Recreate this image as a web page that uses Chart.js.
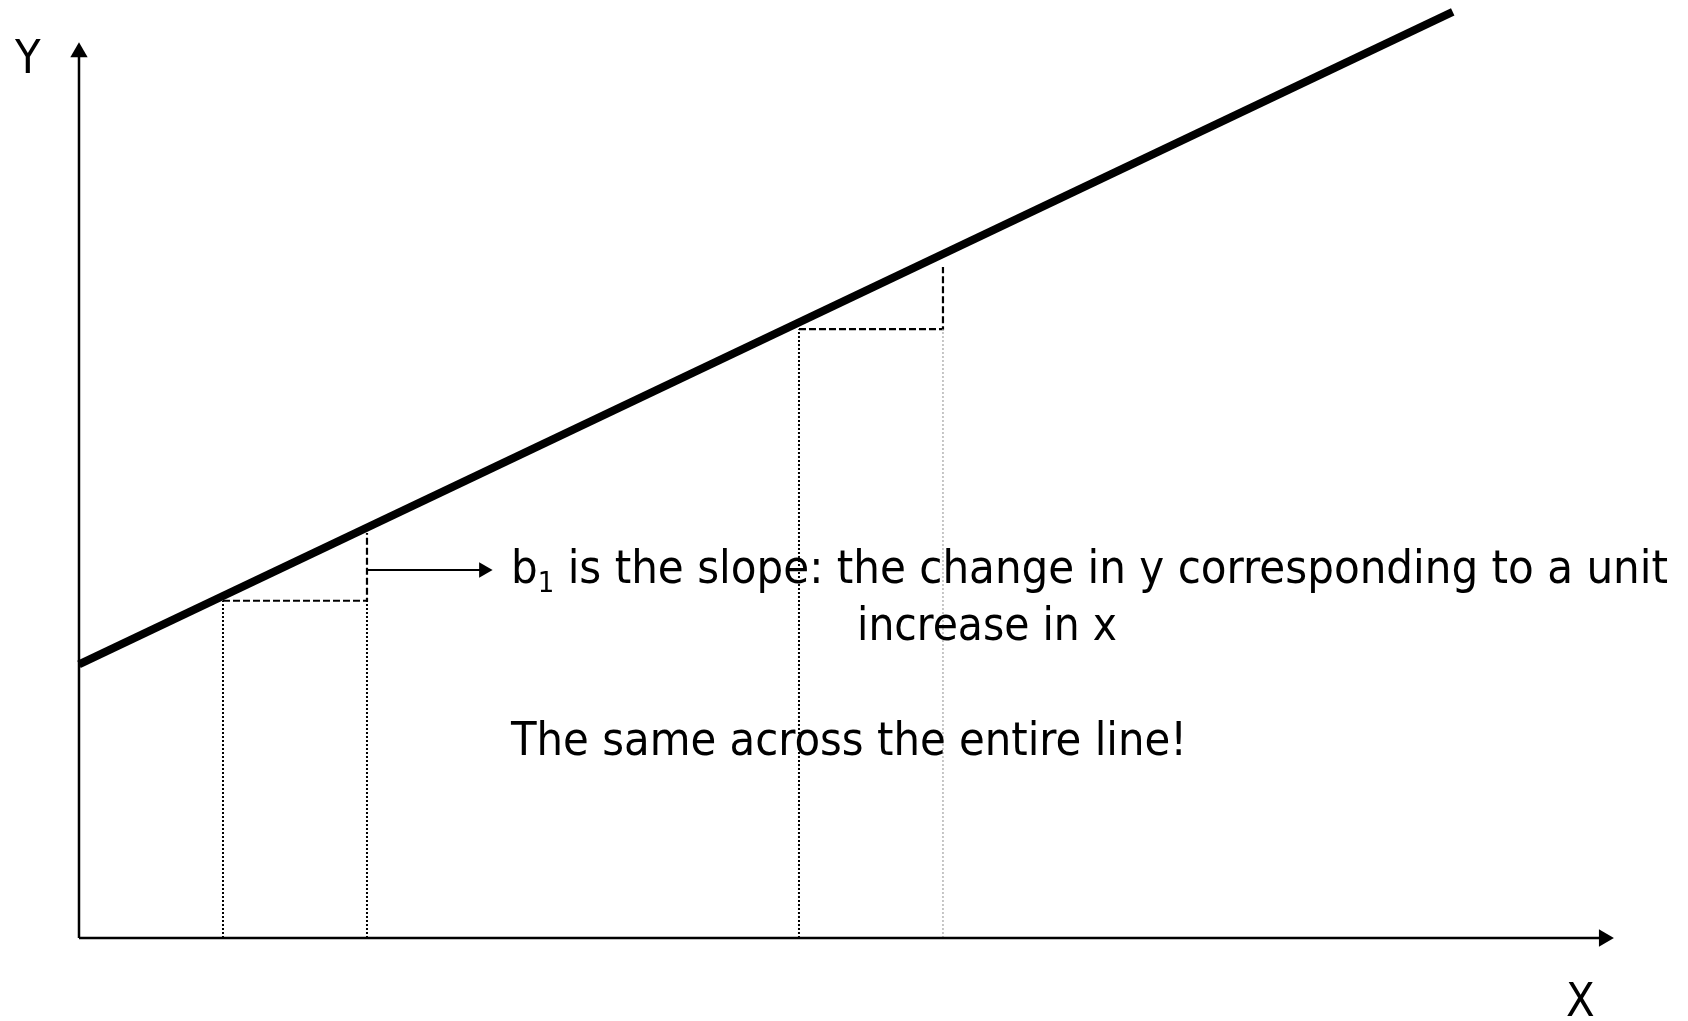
<!DOCTYPE html>
<html>
<head>
<meta charset="utf-8">
<script src="https://cdn.jsdelivr.net/npm/chart.js@4"></script>
<style>
  html, body { margin: 0; padding: 0; background: #fff; }
  #wrap { width: 1688px; height: 1021px; }
</style>
</head>
<body>
<div id="wrap"><canvas id="slopeChart"></canvas></div>
<script>
// regression line y = b0 + b1*x
const lineX = [0, 9.54];
const lineY = [4, 13.54];

// the two unit steps under the line
const stepStart = [1, 5];
const stepEnd = [2, 6];
const stepBase = [4.93, 8.90];
const stepTop = [5.92, 9.81];

// pointer from the first step to the text
const pointerX = [2, 2.81];
const pointerY = [5.38, 5.38];

// axis ends (arrowheads sit here)
const xAxisEnd = 10.59;
const yAxisEnd = 12.95;

const textLines = [
  "is the slope: the change in y corresponding to a unit",
  "increase in x",
  "The same across the entire line!"
];

function seg(points, opts) {
  return Object.assign({
    data: points,
    borderColor: "#000",
    borderWidth: 2,
    pointRadius: 0,
    fill: false,
    tension: 0,
    clip: false
  }, opts);
}

const datasets = [];

// axes with triangle arrowheads
datasets.push(seg([{ x: 0, y: 0 }, { x: xAxisEnd, y: 0 }], {
  borderWidth: 2.5,
  pointRadius: [0, 10],
  pointStyle: "triangle",
  pointRotation: 90,
  pointBackgroundColor: "#000",
  pointBorderWidth: 0
}));
datasets.push(seg([{ x: 0, y: 0 }, { x: 0, y: yAxisEnd }], {
  borderWidth: 2.5,
  pointRadius: [0, 10],
  pointStyle: "triangle",
  pointRotation: 0,
  pointBackgroundColor: "#000",
  pointBorderWidth: 0
}));

// dotted drop lines and dashed steps
stepStart.forEach((x0, i) => {
  const x1 = stepEnd[i];
  datasets.push(seg([{ x: x0, y: 0 }, { x: x0, y: stepBase[i] }], {
    borderWidth: 2, borderDash: [2, 2]
  }));
  datasets.push(seg([{ x: x1, y: 0 }, { x: x1, y: stepBase[i] }], i === 0
    ? { borderWidth: 2, borderDash: [2, 2] }
    : { borderWidth: 1.5, borderDash: [2, 2], borderColor: "#b4b4b4" }));
  datasets.push(seg([
    { x: x0, y: stepBase[i] },
    { x: x1, y: stepBase[i] },
    { x: x1, y: stepTop[i] }
  ], { borderWidth: 2.2, borderDash: [7, 3] }));
});

// pointer arrow
datasets.push(seg(pointerX.map((x, i) => ({ x: x, y: pointerY[i] })), {
  borderWidth: 2,
  pointRadius: [0, 9],
  pointStyle: "triangle",
  pointRotation: 90,
  pointBackgroundColor: "#000",
  pointBorderWidth: 0
}));

// regression line
datasets.push(seg(lineX.map((x, i) => ({ x: x, y: lineY[i] })), {
  borderWidth: 8,
  borderCapStyle: "butt"
}));

const FONT = '"DejaVu Sans Condensed", "DejaVu Sans", sans-serif';

const textPlugin = {
  id: "slopeText",
  afterDraw(chart) {
    const ctx = chart.ctx;
    ctx.save();
    ctx.fillStyle = "#000";
    ctx.textBaseline = "alphabetic";

    const widthOf = (txt, size) => {
      ctx.font = size + "px " + FONT;
      return ctx.measureText(txt).width;
    };
    const put = (txt, x, y, size, sx) => {
      ctx.save();
      ctx.translate(x, y);
      ctx.scale(sx, 1);
      ctx.font = size + "px " + FONT;
      ctx.fillText(txt, 0, 0);
      const w = ctx.measureText(txt).width * sx;
      ctx.restore();
      return w;
    };

    // squeeze each line to the width of the original lettering
    const first = " " + textLines[0];
    const sx1 = 1157 / (widthOf("b", 47) + widthOf("1", 29) + widthOf(first, 47));
    const sx2 = 260 / widthOf(textLines[1], 47);
    const sx3 = 676 / widthOf(textLines[2], 47);

    let x = 511;
    x += put("b", x, 583, 47, sx1);
    x += put("1", x, 592, 29, sx1);
    put(first, x, 583, 47, sx1);
    put(textLines[1], 857, 640, 47, sx2);
    put(textLines[2], 511, 755, 47, sx3);

    put("Y", 15, 73, 47, sx3);
    put("X", 1566, 1016, 47, sx3);
    ctx.restore();
  }
};

new Chart(document.getElementById("slopeChart"), {
  type: "line",
  data: { datasets: datasets },
  options: {
    responsive: true,
    maintainAspectRatio: false,
    animation: false,
    layout: { padding: 0, autoPadding: false },
    plugins: {
      legend: { display: false },
      tooltip: { enabled: false },
      title: { display: false }
    },
    scales: {
      x: { type: "linear", display: false, min: -0.5486, max: 11.174 },
      y: { type: "linear", display: false, min: -1.2135, max: 13.713 }
    }
  },
  plugins: [textPlugin]
});
</script>
</body>
</html>
